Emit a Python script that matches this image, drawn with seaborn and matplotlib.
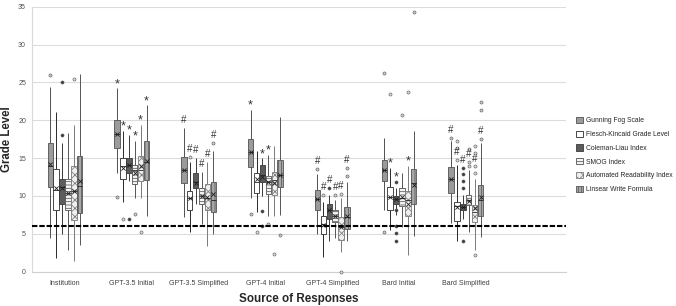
import numpy as np
import pandas as pd
import matplotlib
matplotlib.use("Agg")
import matplotlib.pyplot as plt
import seaborn as sns
from matplotlib.patches import Patch

# ---------------- data ----------------
sources = ["Institution", "GPT-3.5 Initial", "GPT-3.5 Simplified", "GPT-4 Initial",
           "GPT-4 Simplified", "Bard Initial", "Bard Simplified"]
indices = ["Gunning Fog Scale", "Flesch-Kincaid Grade Level", "Coleman-Liau Index",
           "SMOG Index", "Automated Readability Index", "Linsear Write Formula"]

# five-number summaries (whisker low, Q1, median, Q3, whisker high) per source
gunning_box = [(4.4, 11.2, 13.9, 17.0, 24.4), (13.0, 16.3, 18.2, 20.0, 24.2), (7.2, 11.7, 13.4, 15.1, 19.0),
               (9.7, 13.8, 15.8, 17.5, 21.4), (5.0, 8.1, 9.6, 10.8, 12.9), (8.2, 12.0, 13.4, 14.7, 17.7),
               (6.4, 10.4, 12.3, 13.8, 17.2)]
flesch_box = [(1.8, 8.2, 10.8, 13.5, 21.1), (9.2, 12.3, 13.9, 15.0, 18.6), (5.3, 8.2, 9.7, 10.7, 14.5),
              (7.9, 10.4, 11.9, 13.0, 16.0), (1.9, 5.0, 6.3, 7.3, 9.2), (5.5, 8.1, 9.9, 11.2, 13.7),
              (4.0, 6.7, 8.7, 9.2, 14.1)]
coleman_box = [(5.0, 9.0, 11.2, 12.2, 17.0), (12.0, 13.0, 14.1, 15.0, 18.1), (9.0, 11.0, 11.9, 13.0, 15.0),
               (10.0, 11.8, 12.8, 14.1, 15.0), (4.0, 7.0, 8.1, 9.0, 10.1), (7.5, 8.9, 9.6, 10.0, 11.0),
               (7.0, 8.1, 8.6, 8.9, 10.1)]
smog_box = [(2.9, 8.1, 10.4, 12.2, 18.3), (9.7, 11.6, 13.4, 14.1, 17.3), (6.3, 8.9, 10.0, 11.0, 13.2),
            (7.3, 10.3, 11.9, 12.6, 15.4), (4.4, 6.6, 7.3, 8.1, 9.5), (5.9, 8.7, 9.7, 11.0, 13.0),
            (5.3, 8.8, 9.5, 10.1, 13.4)]
ari_box = [(1.4, 6.8, 10.6, 14.0, 19.4), (9.7, 12.0, 13.4, 15.3, 19.4), (3.4, 8.1, 9.8, 11.6, 14.5),
           (7.3, 10.1, 12.1, 13.2, 16.6), (2.6, 4.2, 5.9, 7.2, 9.7), (2.2, 7.3, 9.5, 10.7, 14.0),
           (2.9, 6.6, 7.9, 8.8, 12.3)]
linsear_box = [(3.5, 7.7, 11.3, 15.3, 26.1), (7.3, 12.1, 14.5, 17.3, 22.0), (5.0, 7.9, 9.5, 11.9, 16.0),
               (7.5, 11.2, 12.8, 14.8, 20.4), (4.0, 5.7, 7.2, 8.5, 11.9), (4.7, 8.9, 11.7, 13.5, 18.6),
               (4.6, 7.4, 9.5, 11.4, 17.0)]

gunning_mean = [14.2, 18.2, 13.4, 15.8, 9.6, 13.4, 12.3]
flesch_mean = [11.0, 13.7, 9.8, 12.2, 6.2, 9.9, 8.6]
coleman_mean = [11.0, 14.1, 11.7, 12.5, 8.1, 9.6, 8.6]
smog_mean = [10.4, 13.1, 10.0, 11.9, 7.4, 9.9, 9.4]
ari_mean = [10.6, 13.9, 9.9, 11.7, 5.9, 9.0, 8.4]
linsear_mean = [12.0, 14.6, 10.3, 12.8, 7.3, 11.4, 9.9]

gunning_out = [[26.0], [9.9], [], [7.6], [13.6], [26.3, 5.2], [17.7]]
flesch_out = [[], [6.9], [15.2], [5.2], [10.1], [23.5], [17.3, 16.4, 14.8]]
coleman_out = [[25.0, 18.0], [7.0], [], [8.0, 6.1], [11.0], [11.9, 8.2, 6.1, 5.1, 4.1],
               [13.7, 12.9, 12.0, 11.1, 4.0]]
smog_out = [[], [7.6], [], [6.3], [10.1], [20.7], [16.2, 14.5, 13.9]]
ari_out = [[25.5], [5.2], [], [2.4], [10.3, 0.0], [23.8], [16.6, 15.7, 13.9, 13.1, 2.2]]
linsear_out = [[], [], [17.0], [4.8], [12.6, 13.7], [34.3], [22.4, 21.3, 17.5]]

gunning_sig = ["", "*", "#", "*", "#", "", "#"]
flesch_sig = ["", "*", "#", "", "#", "*", "#"]
coleman_sig = ["", "*", "#", "*", "#", "*", "#"]
smog_sig = ["", "*", "#", "*", "#", "", "#"]
ari_sig = ["", "*", "#", "", "#", "*", "#"]
linsear_sig = ["", "*", "#", "", "#", "", "#"]

threshold = 6

box_sets = [gunning_box, flesch_box, coleman_box, smog_box, ari_box, linsear_box]
mean_sets = [gunning_mean, flesch_mean, coleman_mean, smog_mean, ari_mean, linsear_mean]
out_sets = [gunning_out, flesch_out, coleman_out, smog_out, ari_out, linsear_out]
sig_sets = [gunning_sig, flesch_sig, coleman_sig, smog_sig, ari_sig, linsear_sig]

# ---------------- styles ----------------
faces = ["#9b9b9b", "#ffffff", "#5c5c5c", "#f4f4f4", "#efefef", "#a8a8a8"]
edges = ["#505050", "#2a2a2a", "#3a3a3a", "#555555", "#7a7a7a", "#555555"]
hatches = [None, None, None, "-----", "xxxx", "|||||"]
out_faces = ["#c8c8c8", "#d8d8d8", "#404040", "#d0d0d0", "#d8d8d8", "#c8c8c8"]

rows = []
for name, boxes in zip(indices, box_sets):
    for src, five in zip(sources, boxes):
        for v in five:
            rows.append((src, name, v))
df = pd.DataFrame(rows, columns=["Source", "Index", "Grade"])

sns.set_style("white")
plt.rcParams["font.family"] = ["Liberation Sans", "DejaVu Sans"]
plt.rcParams["hatch.linewidth"] = 0.55

fig = plt.figure(figsize=(6.76, 3.06), dpi=100)
ax = fig.add_axes([31.6 / 676, 1 - 271.7 / 306, (566 - 31.6) / 676, (271.7 - 6.7) / 306])

sns.boxplot(data=df, x="Source", y="Grade", hue="Index", order=sources, hue_order=indices,
            whis=(0, 100), showfliers=False, width=0.53, gap=0.1,
            palette=faces, linewidth=0.6, legend=False, ax=ax)

for i, cont in enumerate(ax.containers[:len(indices)]):
    for j, box in enumerate(cont.boxes):
        box.set_facecolor(faces[i])
        box.set_edgecolor(edges[i])
        box.set_linewidth(0.6)
        if hatches[i]:
            box.set_hatch(hatches[i])
        box.set_zorder(3)
    for w in cont.whiskers:
        w.set_color(edges[i])
        w.set_linewidth(0.7)
    for c in cont.caps:
        c.set_visible(False)
    for m in cont.medians:
        m.set_color("#222222")
        m.set_linewidth(0.6)
        m.set_zorder(4)

    for j, med in enumerate(cont.medians):
        xc = float(np.mean(med.get_xdata()))
        ax.scatter([xc], [mean_sets[i][j]], marker="x", s=9, color="#1e1e1e",
                   linewidths=0.6, zorder=5)
        outs = out_sets[i][j]
        if outs:
            ax.scatter([xc] * len(outs), outs, marker="o", s=5, facecolor=out_faces[i],
                       edgecolor="#555555", linewidths=0.4, zorder=5, clip_on=False)
        sig = sig_sets[i][j]
        if sig:
            top = box_sets[i][j][4]
            for v in sorted(o for o in outs if o > top):
                if v - top <= 1.2:
                    top = v
                else:
                    break
            if sig == "*":
                ax.text(xc, top + 0.55, sig, ha="center", va="center", fontsize=9,
                        color="#333333", zorder=6)
            else:
                ax.text(xc, top + 1.05, sig, ha="center", va="center", fontsize=7,
                        color="#333333", zorder=6)

ax.axhline(threshold, color="black", lw=1.5, ls=(0, (2.6, 0.9)), zorder=6)

ax.set_xlim(-0.5, 7.5)
ax.set_ylim(0, 35)
ax.set_yticks(range(0, 36, 5))
ax.yaxis.grid(True, color="#dcdcdc", linewidth=0.8)
ax.set_axisbelow(True)
for s in ["top", "right"]:
    ax.spines[s].set_visible(False)
ax.spines["left"].set_color("#d9d9d9")
ax.spines["bottom"].set_color("#d0d0d0")
ax.spines["left"].set_linewidth(0.8)
ax.spines["bottom"].set_linewidth(0.8)
ax.tick_params(axis="x", length=0, pad=6, labelsize=5, labelcolor="#404040")
ax.tick_params(axis="y", length=0, pad=4, labelsize=5, labelcolor="#505050")

ax.set_ylabel("Grade Level", fontsize=8.3, fontweight="bold")
ax.yaxis.set_label_coords(-0.034, 0.5)
ax.set_xlabel("Source of Responses", fontsize=8.4, fontweight="bold")
ax.xaxis.set_label_coords(0.5, -0.08)

handles = [Patch(facecolor=faces[i], edgecolor=edges[i], hatch=hatches[i], linewidth=0.6)
           for i in range(len(indices))]
fig.legend(handles, indices, loc="center left", bbox_to_anchor=(576 / 676, 1 - 155 / 306),
           frameon=False, fontsize=4.85, handlelength=1.0, handleheight=1.0,
           handletextpad=0.45, labelspacing=0.95, borderpad=0, borderaxespad=0)

fig.savefig("out.png", dpi=100)
